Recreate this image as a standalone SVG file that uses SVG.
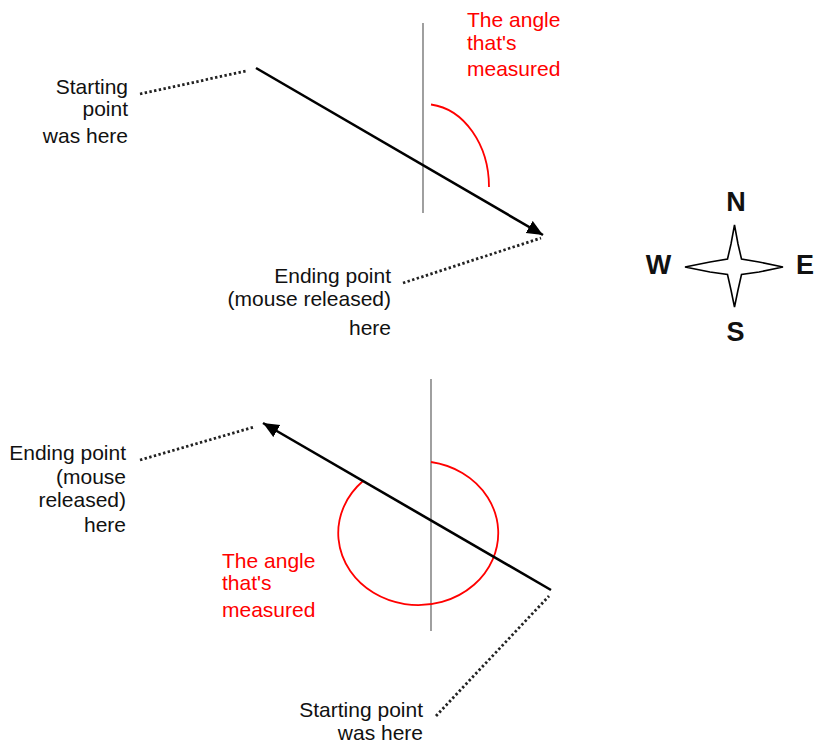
<svg xmlns="http://www.w3.org/2000/svg" width="814" height="745" viewBox="0 0 814 745">
<style>
  .t { font-family: "Liberation Sans", Arial, sans-serif; font-size: 21px; fill: #111; }
  .r { fill: #ff0000; }
  .end { text-anchor: end; }
  .dir { font-family: "Liberation Sans", Arial, sans-serif; font-size: 27px; font-weight: bold; fill: #111; text-anchor: middle; }
  .axis { stroke: #888; stroke-width: 1.6; fill: none; }
  .arrow { stroke: #000; stroke-width: 2.6; fill: none; marker-end: url(#head); }
  .lead { stroke: #222; stroke-width: 2.8; stroke-dasharray: 2.4 2.4; fill: none; }
  .ang { stroke: #ff0000; stroke-width: 1.8; fill: none; }
</style>
<defs>
  <marker id="head" markerUnits="userSpaceOnUse" markerWidth="20" markerHeight="16" refX="16" refY="7" orient="auto">
    <path d="M0,0 L16,7 L0,14 Z" fill="#000"/>
  </marker>
</defs>
<rect width="814" height="745" fill="#fff"/>

<g id="connectors">
  <!-- top diagram -->
  <line class="axis" x1="423" y1="23" x2="423" y2="213"/>
  <path class="ang" d="M431,104.5 A65,83 0 0 1 489,187"/>
  <line class="arrow" x1="256" y1="68" x2="543" y2="235"/>
  <line class="lead" x1="140" y1="94" x2="246" y2="71"/>
  <line class="lead" x1="403" y1="283" x2="541" y2="238"/>
  <!-- bottom diagram -->
  <line class="axis" x1="431" y1="379" x2="431" y2="631"/>
  <path class="ang" d="M431,462 A80,72 0 1 1 363,481"/>
  <line class="arrow" x1="551" y1="590" x2="263" y2="423"/>
  <line class="lead" x1="140" y1="460" x2="254" y2="427"/>
  <line class="lead" x1="436" y1="716" x2="549" y2="596"/>
</g>

<g id="top-start-label">
  <text class="t end" x="128" y="94">Starting</text>
  <text class="t end" x="128" y="116">point</text>
  <text class="t end" x="128" y="143">was here</text>
</g>
<g id="top-angle-label">
  <text class="t r" x="467" y="27">The angle</text>
  <text class="t r" x="467" y="50">that's</text>
  <text class="t r" x="467" y="76">measured</text>
</g>
<g id="top-end-label">
  <text class="t end" x="391" y="283">Ending point</text>
  <text class="t end" x="391" y="306">(mouse released)</text>
  <text class="t end" x="391" y="335">here</text>
</g>

<g id="compass">
  <path d="M734.5,225 L731,244 L727.5,259 L710,262 L685,267 L710,272 L727.5,274.5 L731,290 L734.5,307 L738,290 L741.5,274.5 L759,272 L783,267 L759,262 L741.5,259 L738,244 Z" fill="#fff" stroke="#000" stroke-width="1.6" stroke-linejoin="miter"/>
  <text class="dir" x="736" y="211">N</text>
  <text class="dir" x="658.5" y="274">W</text>
  <text class="dir" x="796" y="274" style="text-anchor:start">E</text>
  <text class="dir" x="735.5" y="341">S</text>
</g>

<g id="bottom-end-label">
  <text class="t end" x="126" y="460">Ending point</text>
  <text class="t end" x="126" y="484">(mouse</text>
  <text class="t end" x="126" y="507">released)</text>
  <text class="t end" x="126" y="532">here</text>
</g>
<g id="bottom-angle-label">
  <text class="t r" x="222" y="568">The angle</text>
  <text class="t r" x="222" y="590">that's</text>
  <text class="t r" x="222" y="617">measured</text>
</g>
<g id="bottom-start-label">
  <text class="t end" x="423" y="717">Starting point</text>
  <text class="t end" x="423" y="740">was here</text>
</g>
</svg>
